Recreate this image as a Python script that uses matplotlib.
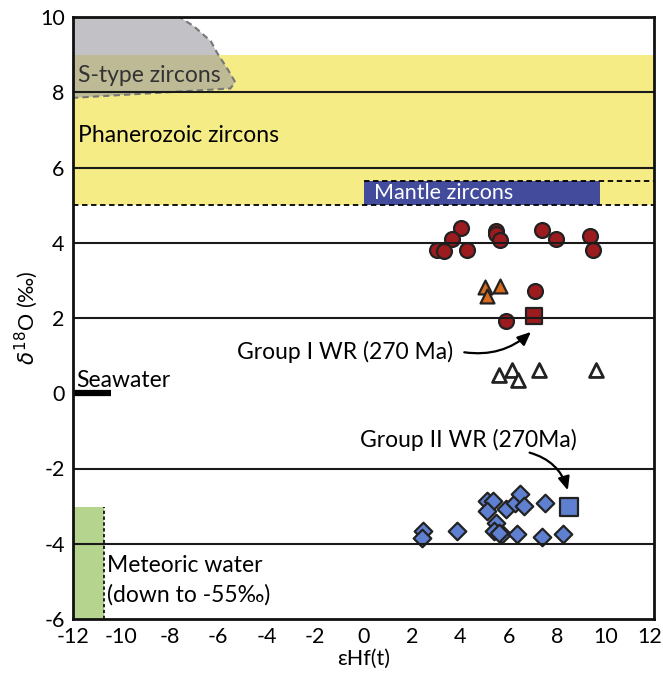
import matplotlib
matplotlib.use("Agg")
import matplotlib.pyplot as plt
from matplotlib.patches import Polygon, Rectangle
from matplotlib.transforms import ScaledTranslation

plt.rcParams['font.family'] = ['Lato', 'DejaVu Sans']

# ---- data ----
red_circle_x = [4.03, 3.67, 3.05, 3.34, 4.27, 5.47, 5.47, 5.63, 7.39, 7.95, 9.34, 9.50, 7.10, 5.89]
red_circle_y = [4.38, 4.10, 3.82, 3.77, 3.80, 4.32, 4.23, 4.07, 4.33, 4.09, 4.18, 3.80, 2.71, 1.92]

orange_tri_x = [5.02, 5.63, 5.11]
orange_tri_y = [2.83, 2.85, 2.58]

white_tri_x = [5.60, 6.12, 6.40, 7.24, 9.60]
white_tri_y = [0.48, 0.61, 0.35, 0.63, 0.63]

blue_dia_x = [5.09, 5.33, 5.09, 5.88, 6.24, 6.47, 6.65, 7.48, 5.47, 5.40, 5.71, 6.36, 7.38, 8.26, 3.86, 2.45, 2.41, 5.58]
blue_dia_y = [-2.86, -2.87, -3.14, -3.07, -2.93, -2.69, -2.99, -2.93, -3.45, -3.66, -3.75, -3.75, -3.82, -3.75, -3.67, -3.67, -3.84, -3.71]

wr1_x, wr1_y = [7.06], [2.06]
wr2_x, wr2_y = [8.47], [-3.02]

grid_levels = [-4, -2, 2, 4, 6, 8]
x_ticks = list(range(-12, 13, 2))
y_ticks = [-6, -4, -2, 0, 2, 4, 6, 8, 10]

# fields
phanero_y = (5, 9)
mantle_x, mantle_y = (0, 9.75), (5.0, 5.65)
meteoric_x, meteoric_y = (-12, -10.7), (-6, -3.03)
seawater_x = (-12, -10.45)
stype_x = [-12, -7.6, -7.0, -6.3, -6.05, -5.6, -5.3, -5.5, -12]
stype_y = [10, 10, 9.75, 9.35, 9.05, 8.6, 8.27, 8.1, 7.85]

fig = plt.figure(figsize=(6.63, 6.74), dpi=100)
ax = fig.add_axes([73/663, 1-619/674, (654-73)/663, (619-17)/674])
ax.set_xlim(-12, 12)
ax.set_ylim(-6, 10)

# Phanerozoic band
ax.add_patch(Rectangle((-12, phanero_y[0]), 24, phanero_y[1]-phanero_y[0],
                       facecolor='#F5EC85', edgecolor='none', zorder=1))
# S-type
ax.add_patch(Polygon(list(zip(stype_x, stype_y)), closed=False, facecolor=(0.6, 0.6, 0.63, 0.6),
                     edgecolor='#777777', linestyle=(0, (3, 2)), linewidth=1.5, zorder=2))
# Mantle
ax.add_patch(Rectangle((mantle_x[0], mantle_y[0]), mantle_x[1]-mantle_x[0], mantle_y[1]-mantle_y[0],
                       facecolor='#434C9C', edgecolor='none', zorder=2))
ax.plot([mantle_x[0], 12], [mantle_y[1], mantle_y[1]], color='black', linestyle=(0, (3, 2)), lw=1.3, zorder=3)
ax.plot([-12, 12], [5, 5], color='black', linestyle=(0, (3, 2)), lw=1.3, zorder=3)
# Meteoric
ax.add_patch(Rectangle((meteoric_x[0], meteoric_y[0]), meteoric_x[1]-meteoric_x[0], meteoric_y[1]-meteoric_y[0],
                       facecolor='#B5D48E', edgecolor='none', zorder=1))
ax.plot([meteoric_x[1], meteoric_x[1]], [meteoric_y[0], meteoric_y[1]], color='black',
        linestyle=(0, (2, 1.5)), lw=1.2, zorder=3)
# Seawater
ax.plot(seawater_x, [0, 0], color='black', lw=4.5, solid_capstyle='butt', zorder=4)

# markers
ax.scatter(red_circle_x, red_circle_y, s=115, marker='o', facecolor='#9B1B1F', edgecolor='#222222', linewidths=1.6, zorder=5)
ax.scatter(orange_tri_x, orange_tri_y, s=100, marker='^', facecolor='#D86A1E', edgecolor='#222222', linewidths=1.6, zorder=5)
ax.scatter(white_tri_x, white_tri_y, s=100, marker='^', facecolor='white', edgecolor='#222222', linewidths=2.0, zorder=5)
ax.scatter(blue_dia_x, blue_dia_y, s=80, marker='D', facecolor='#5F80D0', edgecolor='#222222', linewidths=1.6, zorder=5)
ax.scatter(wr1_x, wr1_y, s=140, marker='s', facecolor='#9B1B1F', edgecolor='#222222', linewidths=1.6, zorder=5)
ax.scatter(wr2_x, wr2_y, s=150, marker='s', facecolor='#5F80D0', edgecolor='#222222', linewidths=1.6, zorder=5)

# grid lines on top
for g in grid_levels:
    ax.axhline(g, color='#1a1a1a', lw=1.5, zorder=6)

# texts
fs = 16.5
ax.text(-11.8, 8.45, 'S-type zircons', fontsize=fs, va='center', ha='left', color='#333333', zorder=7)
ax.text(-11.8, 6.86, 'Phanerozoic zircons', fontsize=fs, va='center', ha='left', color='black', zorder=7)
ax.text(0.45, 5.33, 'Mantle zircons', fontsize=15.5, va='center', ha='left', color='white', zorder=7)
ax.text(-11.85, 0.33, 'Seawater', fontsize=fs, va='center', ha='left', color='black', zorder=7)
ax.text(-10.6, -4.57, 'Meteoric water', fontsize=fs, va='center', ha='left', color='black', zorder=7)
ax.text(-10.6, -5.37, '(down to -55‰)', fontsize=fs, va='center', ha='left', color='black', zorder=7)
ax.text(-5.22, 1.1, 'Group I WR (270 Ma)', fontsize=fs, va='center', ha='left', color='black', zorder=7)
ax.text(-0.14, -1.25, 'Group II WR (270Ma)', fontsize=fs, va='center', ha='left', color='black', zorder=7)

ax.annotate('', xy=(7.0, 1.68), xytext=(4.05, 1.1),
            arrowprops=dict(arrowstyle='-|>,head_length=0.8,head_width=0.35', color='black', lw=1.6,
                            connectionstyle='arc3,rad=0.25'), zorder=7)
ax.annotate('', xy=(8.47, -2.65), xytext=(6.75, -1.56),
            arrowprops=dict(arrowstyle='-|>,head_length=0.8,head_width=0.35', color='black', lw=1.6,
                            connectionstyle='arc3,rad=-0.3'), zorder=7)

ax.set_xticks(x_ticks)
ax.set_yticks(y_ticks)
ax.set_xticklabels([str(t) for t in x_ticks])
ax.set_yticklabels([str(t) for t in y_ticks])
ax.tick_params(length=0, labelsize=15.5, pad=6)
last = ax.get_xticklabels()[-1]
last.set_transform(last.get_transform() + ScaledTranslation(-4/100, 0, fig.dpi_scale_trans))
for sp in ax.spines.values():
    sp.set_linewidth(2)
    sp.set_color('#111111')
    sp.set_zorder(8)

ax.set_xlabel('εHf(t)', fontsize=15.5, labelpad=1)
ax.set_ylabel(r'$\delta^{18}$O (‰)', fontsize=15.5, labelpad=0)

fig.savefig('out.png', dpi=100)
